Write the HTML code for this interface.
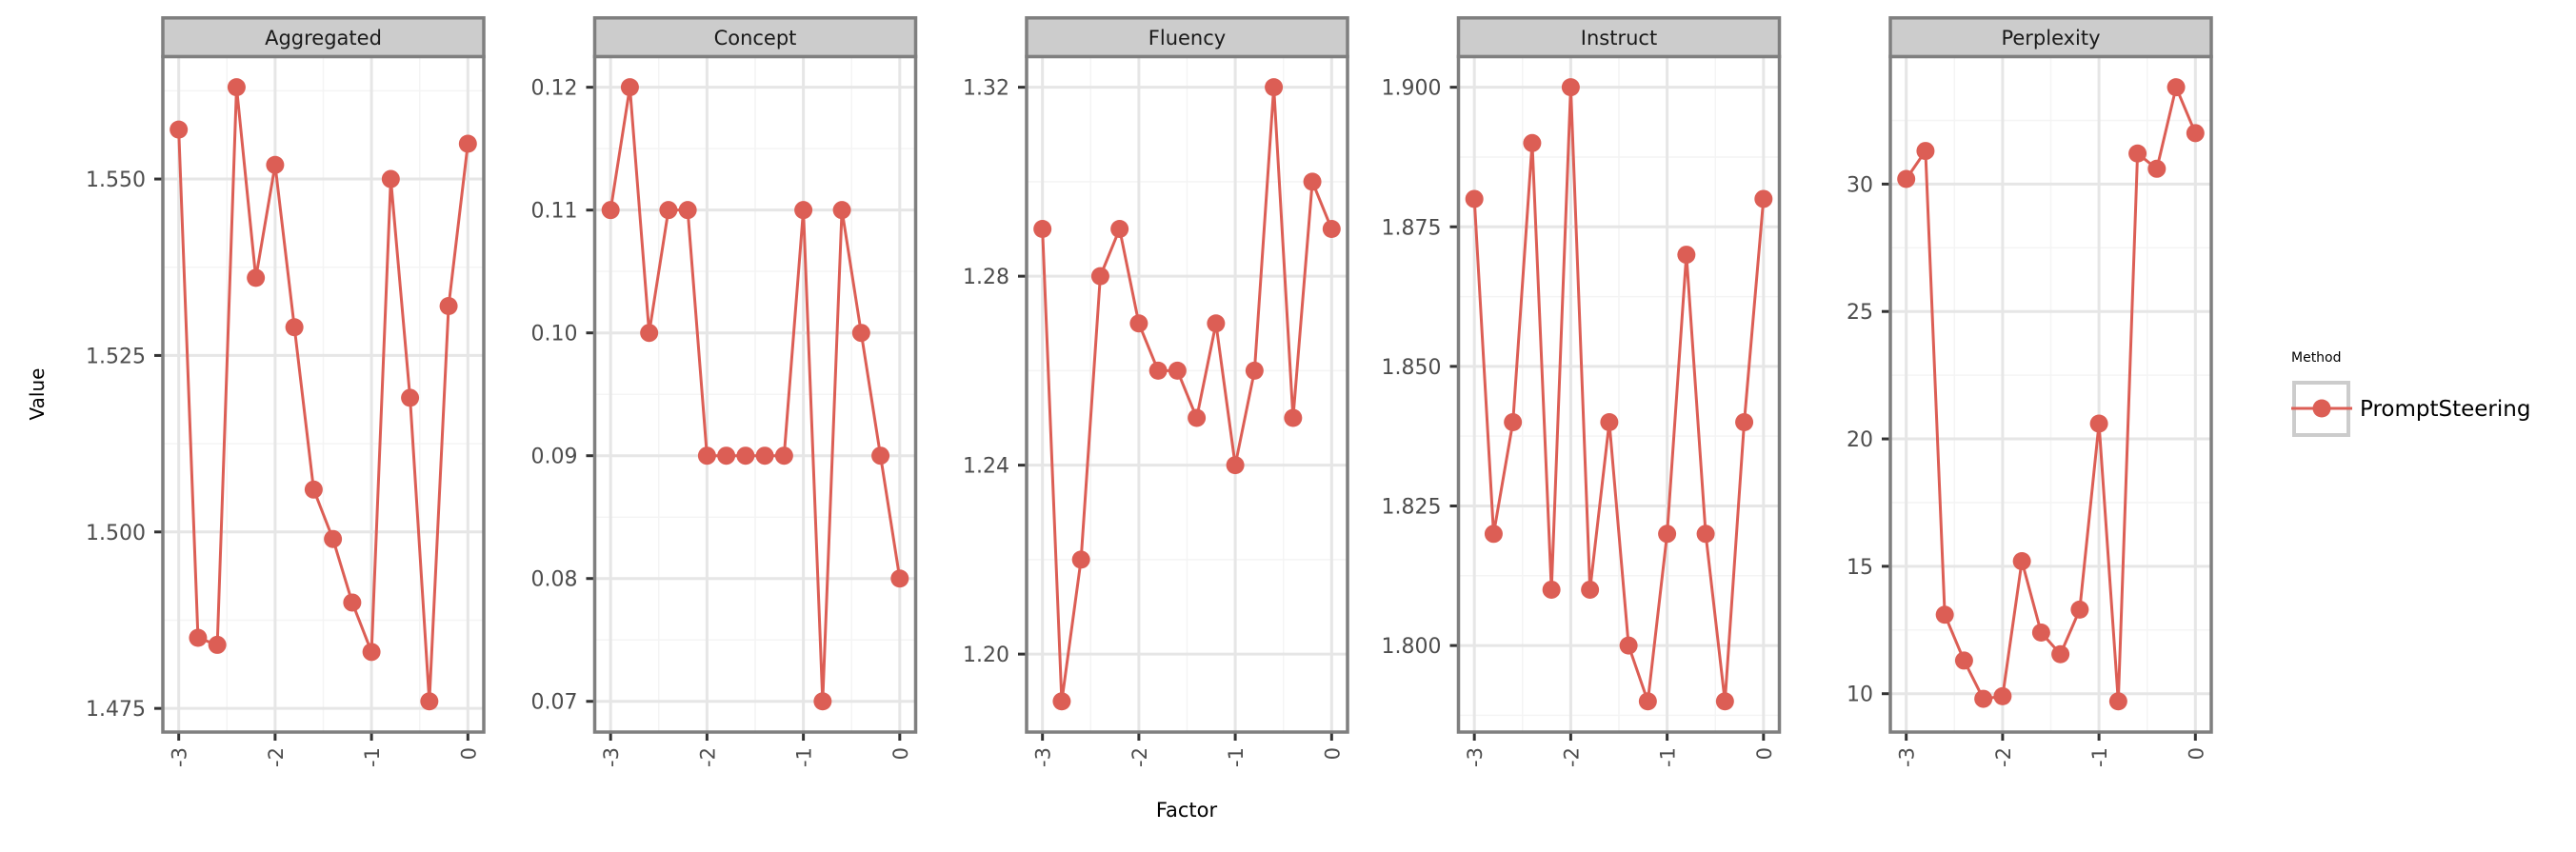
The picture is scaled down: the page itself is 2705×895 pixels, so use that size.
<!DOCTYPE html>
<html><head><meta charset="utf-8"><style>
html,body{margin:0;padding:0;background:#fff;}
svg{display:block;font-family:"DejaVu Sans","Liberation Sans",sans-serif;}
</style></head><body>
<svg id="chart" width="2705" height="895" viewBox="0 0 2705 895" xmlns="http://www.w3.org/2000/svg">
<rect width="2705" height="895" fill="#fff"/>
<text x="0" y="0" transform="translate(46,414) rotate(-90)" text-anchor="middle" font-size="20" fill="#000">Value</text>
<text x="1246" y="858" text-anchor="middle" font-size="21" fill="#000">Factor</text>
<text x="2406" y="380" font-size="14" fill="#000">Method</text>
<rect x="2409" y="402" width="57" height="55" fill="#fff" stroke="#cccccc" stroke-width="4"/>
<line x1="2406" y1="429" x2="2470" y2="429" stroke="#dc5e55" stroke-width="3"/>
<circle cx="2438" cy="429" r="9.5" fill="#dc5e55"/>
<text x="2478" y="437" font-size="23" fill="#000">PromptSteering</text>
<g id="panels"></g>
</svg>
<script>
const factors = [-3,-2.8,-2.6,-2.4,-2.2,-2,-1.8,-1.6,-1.4,-1.2,-1,-0.8,-0.6,-0.4,-0.2,0];
const xTicks = [-3,-2,-1,0];
const xTickLabels = ["-3","-2","-1","0"];
const panelNames = ["Aggregated","Concept","Fluency","Instruct","Perplexity"];
const aggregatedValues = [1.557,1.485,1.484,1.563,1.536,1.552,1.529,1.506,1.499,1.490,1.483,1.550,1.519,1.476,1.532,1.555];
const conceptValues = [0.11,0.12,0.10,0.11,0.11,0.09,0.09,0.09,0.09,0.09,0.11,0.07,0.11,0.10,0.09,0.08];
const fluencyValues = [1.29,1.19,1.22,1.28,1.29,1.27,1.26,1.26,1.25,1.27,1.24,1.26,1.32,1.25,1.30,1.29];
const instructValues = [1.88,1.82,1.84,1.89,1.81,1.90,1.81,1.84,1.80,1.79,1.82,1.87,1.82,1.79,1.84,1.88];
const perplexityValues = [30.2,31.3,13.1,11.3,9.8,9.9,15.2,12.4,11.55,13.3,20.6,9.7,31.2,30.6,33.8,32.0];
const aggregatedTicks = [1.475,1.500,1.525,1.550];
const aggregatedTickLabels = ["1.475","1.500","1.525","1.550"];
const conceptTicks = [0.07,0.08,0.09,0.10,0.11,0.12];
const conceptTickLabels = ["0.07","0.08","0.09","0.10","0.11","0.12"];
const fluencyTicks = [1.20,1.24,1.28,1.32];
const fluencyTickLabels = ["1.20","1.24","1.28","1.32"];
const instructTicks = [1.800,1.825,1.850,1.875,1.900];
const instructTickLabels = ["1.800","1.825","1.850","1.875","1.900"];
const perplexityTicks = [10,15,20,25,30];
const perplexityTickLabels = ["10","15","20","25","30"];

const seriesList = [aggregatedValues,conceptValues,fluencyValues,instructValues,perplexityValues];
const tickList = [aggregatedTicks,conceptTicks,fluencyTicks,instructTicks,perplexityTicks];
const tickLabelList = [aggregatedTickLabels,conceptTickLabels,fluencyTickLabels,instructTickLabels,perplexityTickLabels];

const NS = "http://www.w3.org/2000/svg";
const root = document.getElementById("panels");
function mk(tag, attrs, parent){ const e=document.createElementNS(NS,tag); for(const k in attrs) e.setAttribute(k,attrs[k]); parent.appendChild(e); return e; }

const P_TOP=59.4, P_BOT=769, P_W=337, STRIP_TOP=18.8, LINE="#dc5e55";
panelNames.forEach((name,i)=>{
  const vals=seriesList[i], ticks=tickList[i], labels=tickLabelList[i];
  const left=171+453.5*i, right=left+P_W;
  const g=mk("g",{},root);
  
  
  // scales
  const xmin=Math.min(...factors), xmax=Math.max(...factors), xr=xmax-xmin;
  const xd0=xmin-0.05*xr, xd1=xmax+0.05*xr;
  const sx=v=> left+1.5+(v-xd0)/(xd1-xd0)*(P_W-3);
  const ymin=Math.min(...vals), ymax=Math.max(...vals), yr=ymax-ymin;
  const yd0=ymin-0.05*yr, yd1=ymax+0.05*yr;
  const sy=v=> P_BOT-(v-yd0)/(yd1-yd0)*(P_BOT-P_TOP);
  // minor grid y
  const step=ticks[1]-ticks[0];
  for(let m=ticks[0]-step/2; m<=yd1; m+=step){
    if(m<yd0) continue;
    const l=mk("line",{x1:left,x2:right,y1:sy(m),y2:sy(m),stroke:"#f4f4f4","stroke-width":1.5},g);
    
    
  }
  for(let m=xTicks[0]+0.5; m<xTicks[xTicks.length-1]; m+=1){
    const l=mk("line",{x1:sx(m),x2:sx(m),y1:P_TOP,y2:P_BOT,stroke:"#f4f4f4","stroke-width":1.5},g);
    
    
  }
  ticks.forEach((t,k)=>{
    const y=sy(t);
    const l=mk("line",{x1:left,x2:right,y1:y,y2:y,stroke:"#e6e6e6","stroke-width":3},g);
    
    
    const tm=mk("line",{x1:left-9,x2:left,y1:y,y2:y,stroke:"#333","stroke-width":3},g);
    
    
    const tx=mk("text",{x:left-18,y:y+8,"text-anchor":"end","font-size":22,fill:"#4d4d4d"},g);
    
    
    tx.textContent=labels[k];
  });
  xTicks.forEach((t,k)=>{
    const x=sx(t);
    const l=mk("line",{x1:x,x2:x,y1:P_TOP,y2:P_BOT,stroke:"#e6e6e6","stroke-width":3},g);
    
    
    const tm=mk("line",{x1:x,x2:x,y1:P_BOT,y2:P_BOT+9,stroke:"#333","stroke-width":3},g);
    
    
    const tx=mk("text",{x:0,y:0,transform:`translate(${x+8},${P_BOT+16}) rotate(-90)`,"text-anchor":"end","font-size":21,fill:"#4d4d4d"},g);
    
    
    tx.textContent=xTickLabels[k];
  });
  const pts=factors.map((f,k)=>sx(f).toFixed(2)+","+sy(vals[k]).toFixed(2)).join(" ");
  const pl=mk("polyline",{points:pts,fill:"none",stroke:LINE,"stroke-width":3},g);
  
  
  factors.forEach((f,k)=>{
    const c=mk("circle",{cx:sx(f),cy:sy(vals[k]),r:9.5,fill:LINE},g);
    
    
  });
  const b=mk("rect",{x:left,y:P_TOP,width:P_W,height:P_BOT-P_TOP,fill:"none",stroke:"#7f7f7f","stroke-width":3.5},g);
  
  
  const s=mk("rect",{x:left,y:STRIP_TOP,width:P_W,height:P_TOP-STRIP_TOP,fill:"#cccccc",stroke:"#7f7f7f","stroke-width":3.5},g);
  
  
  const st=mk("text",{x:left+P_W/2,y:47,"text-anchor":"middle","font-size":21,fill:"#1a1a1a"},g);
  
  
  st.textContent=name;
});
</script>
</body></html>
